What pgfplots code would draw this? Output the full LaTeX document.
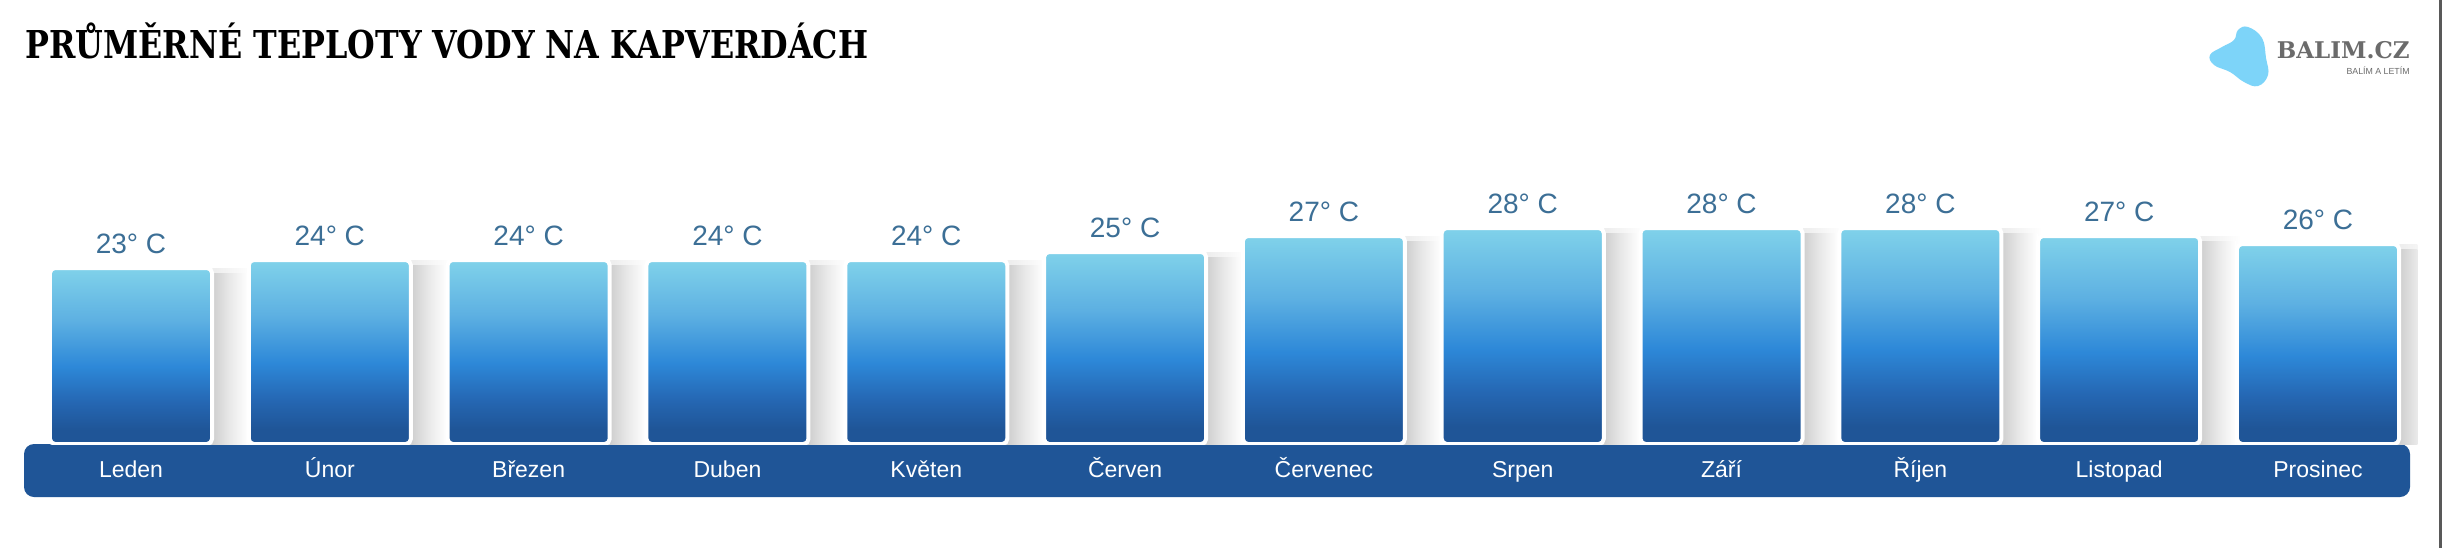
\documentclass[border=0pt]{standalone}
\usepackage{pgfplots}
\pgfplotsset{compat=1.18}
\usepackage{fontspec}
\setmainfont{Liberation Sans}
\newfontfamily\titlefont{DejaVu Serif Condensed}
\newfontfamily\logofont{DejaVu Serif}
\definecolor{bandc}{HTML}{1F5597}
\definecolor{bartop}{HTML}{80D2EA}
\definecolor{barup}{HTML}{5DB0E2}
\definecolor{barmid}{HTML}{2D88D8}
\definecolor{barlow}{HTML}{2567B3}
\definecolor{bardark}{HTML}{1F5597}
\definecolor{shadowc}{HTML}{CFCFCF}
\definecolor{shadowl}{HTML}{E8E8E8}
\definecolor{shadowf}{HTML}{EEEEEE}
\definecolor{shadowfl}{HTML}{F7F7F7}
\definecolor{valc}{HTML}{3C6F96}
\definecolor{logoblue}{HTML}{7DD4F9}
\definecolor{logogray}{HTML}{6B6B6B}
\pgfdeclareverticalshading{barshade}{100bp}{color(0bp)=(bardark); color(25bp)=(bardark); color(29bp)=(bardark); color(37bp)=(barlow); color(47bp)=(barmid); color(60bp)=(barup); color(75bp)=(bartop); color(100bp)=(bartop)}
\pgfdeclarehorizontalshading{shadowshade}{100bp}{color(0bp)=(shadowc); color(25bp)=(shadowc); color(60bp)=(shadowc); color(67bp)=(shadowl); color(75bp)=(white); color(100bp)=(white)}
\pgfdeclarehorizontalshading{shadowsoft}{100bp}{color(0bp)=(shadowf); color(25bp)=(shadowf); color(60bp)=(shadowf); color(68bp)=(shadowfl); color(75bp)=(white); color(100bp)=(white)}
\pgfplotstableread{
x v
0 23
1 24
2 24
3 24
4 24
5 25
6 27
7 28
8 28
9 28
10 27
11 26
}\temps
\begin{document}
\begin{tikzpicture}
\fill[white] (0,0) rectangle (1221pt,274pt);
\useasboundingbox (0,0) rectangle (1221pt,274pt);
\begin{scope}[x=0.5pt,y=-0.5pt,yshift=274pt]
  \fill[bandc, rounded corners=5pt] (24,444) rectangle (2410,497);
  \node[anchor=base west, inner sep=0, font=\titlefont\bfseries\fontsize{19.2}{21}\selectfont] at (25,58) {\scalebox{0.92}[1]{PRŮMĚRNÉ TEPLOTY VODY NA KAPVERDÁCH}};
  \fill[logoblue] plot[smooth cycle, tension=0.7] coordinates {(2248,27) (2262,38) (2266,58) (2268,75) (2258,86) (2244,82) (2230,72) (2214,65) (2210,55) (2222,47) (2234,40) (2238,30)};
  \node[anchor=base east, inner sep=0, text=logogray, font=\logofont\bfseries\fontsize{11.5}{12}\selectfont] at (2410,58) {BALIM.CZ};
  \node[anchor=base east, inner sep=0, text=logogray, font=\fontsize{4.4}{5}\selectfont] at (2410,74) {BALÍM A LETÍM};
  \fill[black!65] (2439,0) rectangle (2442,548);
\end{scope}
\begin{axis}[
  at={(15.8pt,52pt)}, anchor=south west,
  scale only axis, width=1192.9pt, height=132pt,
  xmin=-0.5, xmax=11.5, ymin=1, ymax=34,
  axis line style={draw=none}, tick style={draw=none},
  ytick=\empty, xtick={0,...,11},
  xticklabels={Leden,Únor,Březen,Duben,Květen,Červen,Červenec,Srpen,Září,Říjen,Listopad,Prosinec},
  xticklabel style={text=white, font=\fontsize{11.5}{12}\selectfont, anchor=base, yshift=-12.5pt},
  /pgf/number format/assume math mode=true,
  ybar, clip=true,
]
\pgfplotsinvokeforeach{0,...,11}{
  \addplot[draw=none, shading=shadowsoft, bar shift=0.30, bar width=0.62,
    x filter/.expression={x==#1 ? x : nan}] table[x=x,y=v] {\temps};
}
\pgfplotsinvokeforeach{0,...,11}{
  \addplot[draw=none, shading=shadowshade, bar shift=0.294, bar width=0.5885,
    x filter/.expression={x==#1 ? x : nan}, y filter/.expression={y-0.7}] table[x=x,y=v] {\temps};
}
\pgfplotsinvokeforeach{0,...,11}{
  \addplot[draw=white, line width=2pt, rounded corners=2.5pt, shading=barshade, bar shift=0, bar width=0.815,
    x filter/.expression={x==#1 ? x : nan},
    nodes near coords={\pgfmathprintnumber[fixed,precision=0]{\pgfplotspointmeta}° C},
    every node near coord/.append style={text=valc, font=\fontsize{14}{15}\selectfont, anchor=base, yshift=7.5pt, inner sep=0}
  ] table[x=x,y=v] {\temps};
}
\end{axis}
\end{tikzpicture}
\end{document}
